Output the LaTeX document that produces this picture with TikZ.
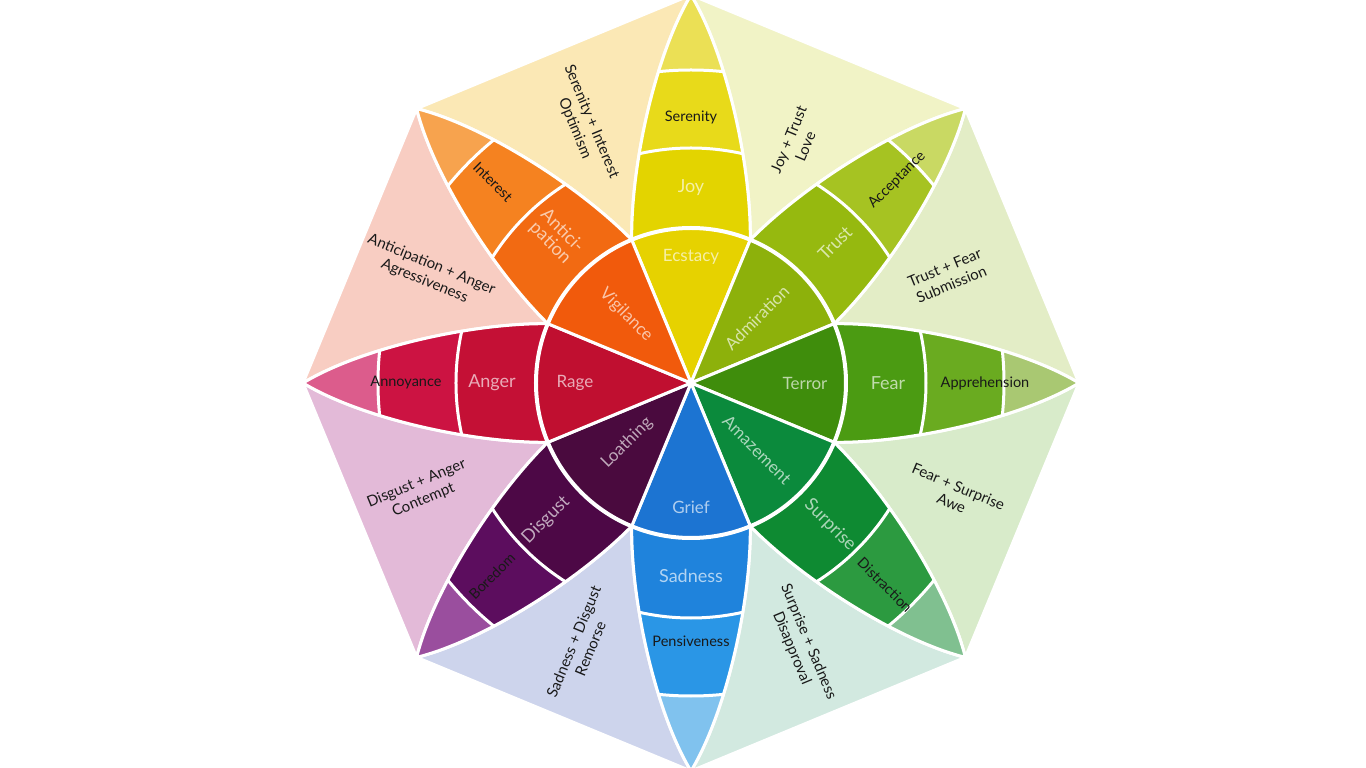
\documentclass[tikz,border=0pt]{standalone}
\usepackage{fontspec}
\setmainfont{Lato}
\usepackage{tikz}
% petal colours: inner / middle / outer / tip
\definecolor{joyIn}{HTML}{E6D200}
\definecolor{joyMid}{HTML}{E3D400}
\definecolor{joyOut}{HTML}{E8DA1A}
\definecolor{joyTip}{HTML}{EBE055}
\definecolor{antIn}{HTML}{F15A0C}
\definecolor{antMid}{HTML}{F26A12}
\definecolor{antOut}{HTML}{F58220}
\definecolor{antTip}{HTML}{F7A34E}
\definecolor{angIn}{HTML}{C00F30}
\definecolor{angMid}{HTML}{C41035}
\definecolor{angOut}{HTML}{CC1342}
\definecolor{angTip}{HTML}{DC5C8C}
\definecolor{disIn}{HTML}{4A0A3E}
\definecolor{disMid}{HTML}{4D0846}
\definecolor{disOut}{HTML}{5C0D5E}
\definecolor{disTip}{HTML}{9A4E9E}
\definecolor{sadIn}{HTML}{1C74D2}
\definecolor{sadMid}{HTML}{1F83DC}
\definecolor{sadOut}{HTML}{2A96E6}
\definecolor{sadTip}{HTML}{80C2EE}
\definecolor{surIn}{HTML}{0B8A3C}
\definecolor{surMid}{HTML}{0E8A32}
\definecolor{surOut}{HTML}{2C9A40}
\definecolor{surTip}{HTML}{80C090}
\definecolor{feaIn}{HTML}{3F8D0C}
\definecolor{feaMid}{HTML}{4B9B12}
\definecolor{feaOut}{HTML}{6AAB20}
\definecolor{feaTip}{HTML}{A9C872}
\definecolor{truIn}{HTML}{8DB10B}
\definecolor{truMid}{HTML}{96B90F}
\definecolor{truOut}{HTML}{A6C322}
\definecolor{truTip}{HTML}{C9D963}
% dyad colours
\definecolor{optimism}{HTML}{FBE8B5}
\definecolor{love}{HTML}{F1F3C6}
\definecolor{submission}{HTML}{E3EDC6}
\definecolor{awe}{HTML}{D8EBCA}
\definecolor{disapproval}{HTML}{D2E9E0}
\definecolor{remorse}{HTML}{CDD4EC}
\definecolor{contempt}{HTML}{E3BAD8}
\definecolor{aggressive}{HTML}{F8CDC2}

\begin{document}
\begin{tikzpicture}[x=1pt, y=1pt,
    sep/.style={draw=white, line width=3pt},
    lighttext/.style={text=white!65!#1},
    inner label/.style={font=\fontsize{17}{18}\selectfont},
    mid label/.style={font=\fontsize{18}{17}\selectfont, align=center},
    outer label/.style={font=\fontsize{14.5}{16}\selectfont, text=black!90},
    dyad label/.style={font=\fontsize{15}{18}\selectfont, text=black!90, align=center}]
    \useasboundingbox (-691,-385) rectangle (675,383);

    % dyads between neighbouring petals
    \foreach \ang/\col in {0/submission, 45/love, 90/optimism, 135/aggressive,
                           180/contempt, 225/remorse, 270/disapproval, 315/awe}{
        \begin{scope}[rotate=\ang]
            \fill[\col, sep] (143.2,59.3) .. controls (220,60) and (330,35) .. (388,0)
                -- (45:388) .. controls ([rotate=45]330,-35) and ([rotate=45]220,-60) .. (143.2,59.3) -- cycle;
        \end{scope}
    }

    % petals
    \foreach \ang/\cin/\cmid/\cout/\ctip in {90/joyIn/joyMid/joyOut/joyTip,
            45/truIn/truMid/truOut/truTip, 0/feaIn/feaMid/feaOut/feaTip,
            -45/surIn/surMid/surOut/surTip, -90/sadIn/sadMid/sadOut/sadTip,
            -135/disIn/disMid/disOut/disTip, 180/angIn/angMid/angOut/angTip,
            135/antIn/antMid/antOut/antTip}{
        \begin{scope}[rotate=\ang]
            \begin{scope}
                \clip (0,0) -- (143.2,-59.3) .. controls (220,-60) and (330,-35) .. (388,0)
                    .. controls (330,35) and (220,60) .. (143.2,59.3) -- cycle;
                \fill[\ctip] (0,0) circle (392);
                \fill[\cout] (0,0) circle (313);
                \fill[\cmid] (0,0) circle (235);
                \fill[\cin] (0,0) circle (155);
                \draw[sep] (0,0) circle (313) (0,0) circle (235);
            \end{scope}
            \draw[sep] (0,0) -- (143.2,-59.3) .. controls (220,-60) and (330,-35) .. (388,0)
                .. controls (330,35) and (220,60) .. (143.2,59.3) -- cycle;
        \end{scope}
    }
    \draw[sep, line width=4pt] (0,0) circle (155);

    % inner ring
    \node[inner label, lighttext=joyIn] (ecstasy) at (0,126) {Ecstacy};
    \node[inner label, lighttext=antIn, rotate=-45] (vigilance) at (-65,68) {Vigilance};
    \node[inner label, lighttext=truIn, rotate=45] (admiration) at (66,65) {Admiration};
    \node[inner label, lighttext=feaIn] (terror) at (114,0) {Terror};
    \node[inner label, lighttext=angIn] (rage) at (-116,0) {Rage};
    \node[inner label, lighttext=disIn, rotate=45] (loathing) at (-64,-60) {Loathing};
    \node[inner label, lighttext=sadIn] (grief) at (0,-124) {Grief};
    \node[inner label, lighttext=surIn, rotate=-45] (amazement) at (66,-67) {Amazement};

    % middle ring
    \node[mid label, lighttext=joyMid] (joy) at (0,195) {Joy};
    \node[mid label, lighttext=antMid, rotate=-45] (anticipation) at (-135,146) {Antici-\\pation};
    \node[mid label, lighttext=truMid, rotate=45] (trust) at (144,140) {Trust};
    \node[mid label, lighttext=feaMid] (fear) at (197,0) {Fear};
    \node[mid label, lighttext=surMid, rotate=-45] (surprise) at (139,-142) {Surprise};
    \node[mid label, lighttext=sadMid] (sadness) at (0,-193) {Sadness};
    \node[mid label, lighttext=disMid, rotate=45] (disgust) at (-145,-137) {Disgust};
    \node[mid label, lighttext=angMid] (anger) at (-199,0) {Anger};

    % outer ring
    \node[outer label] (serenity) at (0,266) {Serenity};
    \node[outer label, rotate=-45] (interest) at (-198,201) {Interest};
    \node[outer label, rotate=45] (acceptance) at (206,203) {Acceptance};
    \node[outer label] (apprehension) at (294,0) {Apprehension};
    \node[outer label, rotate=-45] (distraction) at (194,-202) {Distraction};
    \node[outer label] (pensiveness) at (0,-258) {Pensiveness};
    \node[outer label, rotate=45] (boredom) at (-199,-193) {Boredom};
    \node[outer label] (annoyance) at (-285,0) {Annoyance};

    % dyads
    \node[dyad label, rotate=-67.5] (optimismtxt) at (-108,258) {Serenity + Interest\\Optimism};
    \node[dyad label, rotate=67.5] (lovetxt) at (106,240) {Joy + Trust\\Love};
    \node[dyad label, rotate=22.5] (submissiontxt) at (257,107) {Trust + Fear\\Submission};
    \node[dyad label, rotate=-22.5] (awetxt) at (264,-112) {Fear + Surprise\\Awe};
    \node[dyad label, rotate=-67.5] (disapprovaltxt) at (109,-262) {Surprise + Sadness\\Disapproval};
    \node[dyad label, rotate=67.5] (remorsetxt) at (-109,-262) {Sadness + Disgust\\Remorse};
    \node[dyad label, rotate=22.5] (contempttxt) at (-271,-109) {Disgust + Anger\\Contempt};
    \node[dyad label, rotate=-22.5] (aggressivetxt) at (-263,110) {Anticipation + Anger\\Agressiveness};
\end{tikzpicture}
\end{document}
